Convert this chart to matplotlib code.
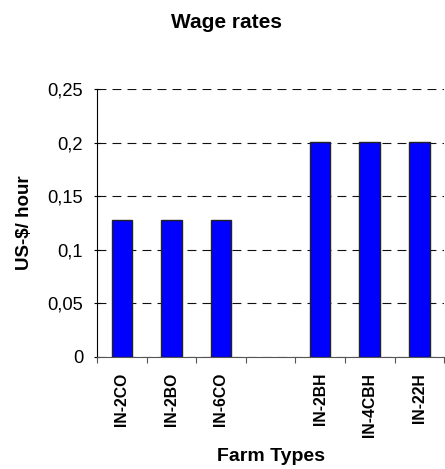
import matplotlib
matplotlib.use("Agg")
import matplotlib.pyplot as plt
from matplotlib.ticker import FuncFormatter

categories = ["IN-2CO", "IN-2BO", "IN-6CO", "", "IN-2BH", "IN-4CBH", "IN-22H"]
wages = [0.128, 0.128, 0.128, None, 0.201, 0.201, 0.201]
yticks = [0, 0.05, 0.1, 0.15, 0.2, 0.25]

plt.rcParams["font.family"] = ["Liberation Sans", "DejaVu Sans"]

fig = plt.figure(figsize=(4.45, 4.69), dpi=100)
ax = fig.add_axes([0.218, 0.239, 0.78, 0.571])

# skip the empty gap slot between the two groups
bx = [i for i, v in enumerate(wages) if v is not None]
bh = [v for v in wages if v is not None]
ax.bar(bx, bh, width=0.415, color="#0000ff", edgecolor="#222222", linewidth=1.0, zorder=3)

ax.set_xlim(-0.5, len(categories) - 0.5)
ax.set_ylim(0, 0.25)
ax.set_yticks(yticks)
ax.yaxis.set_major_formatter(FuncFormatter(lambda v, p: ("%g" % v).replace(".", ",")))
ax.yaxis.grid(True, color="#111111", linestyle=(0, (8, 5.5)), linewidth=0.8, zorder=0)

x = list(range(len(categories)))
ax.set_xticks([i - 0.5 for i in range(len(categories) + 1)])
ax.set_xticklabels([])
ax.set_xticks(x, minor=True)
ax.set_xticklabels(categories, minor=True, rotation=90, fontweight="bold", fontsize=11.3)
ax.tick_params(axis="x", which="minor", length=0, pad=11.5)
ax.tick_params(axis="x", which="major", length=4, direction="out", color="#555555")
ax.tick_params(axis="y", length=4, direction="inout", labelsize=13.2, pad=8)

for side in ["top", "right"]:
    ax.spines[side].set_visible(False)
ax.spines["left"].set_color("black")
ax.spines["bottom"].set_color("#555555")

ax.set_ylabel("US-$/ hour", fontweight="bold", fontsize=13.5)
ax.yaxis.set_label_coords(-0.184, 0.5)
ax.set_xlabel("Farm Types", fontweight="bold", fontsize=14)
ax.xaxis.set_label_coords(0.5, -0.34)
fig.text(0.508, 0.953, "Wage rates", ha="center", va="center", fontweight="bold", fontsize=15)

fig.savefig("out.png", dpi=100)
